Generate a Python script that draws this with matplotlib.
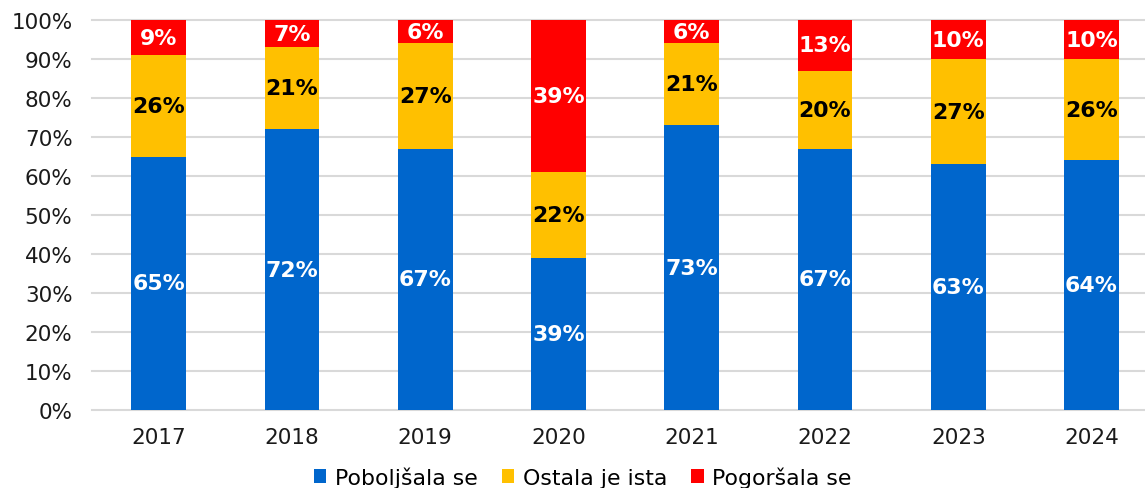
import numpy as np
import matplotlib.pyplot as plt

years = ['2017', '2018', '2019', '2020', '2021', '2022', '2023', '2024']
poboljsala = [65, 72, 67, 39, 73, 67, 63, 64]
ostala = [26, 21, 27, 22, 21, 20, 27, 26]
pogorsala = [9, 7, 6, 39, 6, 13, 10, 10]

series = [
    ('Poboljšala se', poboljsala, '#0066CC', 'white'),
    ('Ostala je ista', ostala, '#FFC000', 'black'),
    ('Pogoršala se', pogorsala, '#FF0000', 'white'),
]

plt.rcParams['font.family'] = ['DejaVu Sans']

fig = plt.figure(figsize=(11.45, 4.89), dpi=100)
ax = fig.add_axes([92 / 1145, 1 - 411 / 489, 1 - 92 / 1145, 390 / 489])

x = np.arange(len(years))
bottom = np.zeros(len(years))
for name, vals, color, tcolor in series:
    vals = np.array(vals, dtype=float)
    ax.bar(x, vals, 0.41, bottom=bottom, color=color, label=name, zorder=3)
    for xi, b, v in zip(x, bottom, vals):
        ax.text(xi, b + v / 2, f'{v:.0f}%', ha='center', va='center',
                color=tcolor, fontsize=15.8, fontweight='bold', zorder=4)
    bottom += vals

ax.set_xlim(-0.5, 7.401)
ax.set_ylim(0, 100)
ax.set_yticks(np.arange(0, 101, 10))
ax.set_yticklabels([f'{t}%' for t in range(0, 101, 10)])
ax.set_xticks(x)
ax.set_xticklabels(years)
ax.tick_params(axis='both', length=0, labelsize=15.5, colors='#1a1a1a')
ax.tick_params(axis='x', pad=12)
ax.tick_params(axis='y', pad=14)
for s in ax.spines.values():
    s.set_visible(False)
ax.yaxis.grid(True, color='#d9d9d9', linewidth=1.5, zorder=0)
ax.set_axisbelow(True)
for gl in ax.get_ygridlines():
    gl.set_clip_on(False)

fig.legend(loc='center', bbox_to_anchor=(583 / 1145, 1 - 478 / 489), ncol=3,
           frameon=False, fontsize=15.8, handlelength=0.55, handleheight=0.55,
           handletextpad=0.4, columnspacing=1.1)

fig.savefig('out.png', dpi=100)
